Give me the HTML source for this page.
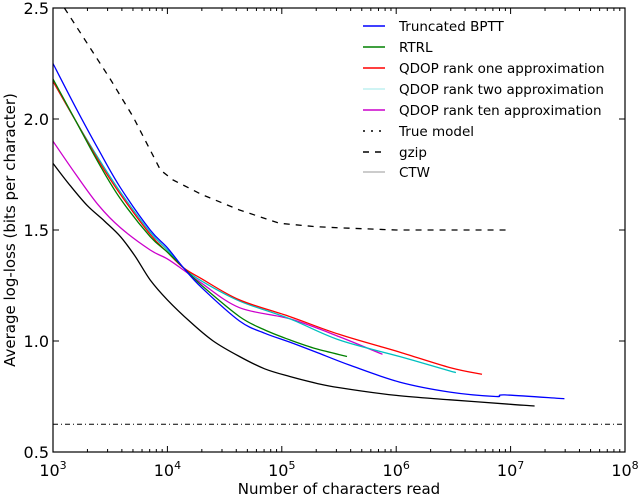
<!DOCTYPE html>
<html><head><meta charset="utf-8"><style>
body{margin:0;background:#fff;}
svg{display:block;font-family:"DejaVu Sans","Liberation Sans",sans-serif;}
</style></head><body>
<svg id="chart" width="640" height="495" viewBox="0 0 640 495" xmlns="http://www.w3.org/2000/svg">
<g id="plot"></g>
</svg>
<script>
const xTicks=[3,4,5,6,7,8];
const yTicks=[0.5,1.0,1.5,2.0,2.5];
const yTickLabels=["0.5","1.0","1.5","2.0","2.5"];
const blackX=[3,3.15,3.3,3.45,3.59,3.72,3.85,4,4.2,4.4,4.63,4.85,5.07,5.3,5.5,6,6.47,7,7.21];
const blackY=[1.80,1.70,1.61,1.54,1.47,1.38,1.275,1.185,1.086,1.00,0.93,0.875,0.84,0.81,0.79,0.755,0.735,0.715,0.707];
const bpttX=[3,3.2,3.4,3.59,3.85,4,4.14,4.3,4.63,4.85,5.07,5.3,5.6,6.03,6.47,6.87,6.95,7.47];
const bpttY=[2.25,2.05,1.86,1.69,1.50,1.42,1.33,1.24,1.09,1.035,0.995,0.95,0.89,0.815,0.77,0.75,0.757,0.74];
const rtrlX=[3,3.2,3.4,3.59,3.85,4,4.14,4.3,4.63,4.85,5.07,5.3,5.57];
const rtrlY=[2.18,1.99,1.80,1.64,1.47,1.40,1.33,1.25,1.11,1.05,1.005,0.965,0.93];
const rank1X=[3,3.2,3.4,3.59,3.85,4,4.14,4.3,4.63,5.07,5.5,6.03,6.47,6.75];
const rank1Y=[2.17,1.99,1.81,1.66,1.48,1.40,1.33,1.28,1.185,1.11,1.03,0.95,0.88,0.85];
const rank2X=[3,3.2,3.4,3.59,3.85,4,4.14,4.3,4.63,5.07,5.5,6.03,6.47,6.51];
const rank2Y=[2.17,1.99,1.82,1.67,1.49,1.41,1.33,1.27,1.18,1.10,1.005,0.93,0.865,0.86];
const rank10X=[3,3.2,3.4,3.59,3.85,4,4.14,4.3,4.63,5.07,5.5,5.88];
const rank10Y=[1.90,1.75,1.61,1.51,1.41,1.37,1.32,1.26,1.15,1.10,1.02,0.94];
const gzipX=[3.1,3.3,3.5,3.7,3.94,4.05,4.3,4.63,4.98,5.3,5.5,6,7];
const gzipY=[2.5,2.34,2.18,2.01,1.77,1.725,1.66,1.59,1.53,1.515,1.51,1.50,1.50];
const trueY=0.625;

const L=53,R=625,T=8,B=452;
const xs=v=>L+(v-3)/5*(R-L);
const ys=v=>B-(v-0.5)/2*(B-T);
const NS="http://www.w3.org/2000/svg";
const svg=document.getElementById('chart');
function mk(t,a,p){const e=document.createElementNS(NS,t);for(const k in a)e.setAttribute(k,a[k]);(p||svg).appendChild(e);return e;}
function smooth(pts){
  let d='M'+pts[0][0].toFixed(1)+' '+pts[0][1].toFixed(1);
  for(let i=0;i<pts.length-1;i++){
    const p0=pts[Math.max(0,i-1)],p1=pts[i],p2=pts[i+1],p3=pts[Math.min(pts.length-1,i+2)];
    const c1x=p1[0]+(p2[0]-p0[0])/6,c1y=p1[1]+(p2[1]-p0[1])/6;
    const c2x=p2[0]-(p3[0]-p1[0])/6,c2y=p2[1]-(p3[1]-p1[1])/6;
    d+=' C'+c1x.toFixed(1)+' '+c1y.toFixed(1)+' '+c2x.toFixed(1)+' '+c2y.toFixed(1)+' '+p2[0].toFixed(1)+' '+p2[1].toFixed(1);
  }
  return d;
}
function series(xa,ya,color,name,dash,w,straight){
  const pts=xa.map((x,i)=>[xs(x),ys(ya[i])]);
  const d=straight?pts.map((p,i)=>(i?'L':'M')+p[0].toFixed(1)+' '+p[1].toFixed(1)).join(' '):smooth(pts);
  const p=mk('path',{d:d,fill:'none',stroke:color,'stroke-width':w||1.3,'stroke-linejoin':'round'});
  if(dash)p.setAttribute('stroke-dasharray',dash);
  
  
}
series(gzipX,gzipY,'#000','gzip-line','6,6',1.3,true);
series([3,8],[trueY,trueY],'#000','true-model-line','5,3,1,3',1,true);
series(blackX,blackY,'#000','ctw-line');
series(rank10X,rank10Y,'#cc00cc','qdop-rank-ten-line');
series(rank2X,rank2Y,'#00bfbf','qdop-rank-two-line');
series(rank1X,rank1Y,'#ff0000','qdop-rank-one-line');
series(rtrlX,rtrlY,'#008000','rtrl-line');
series(bpttX,bpttY,'#0000ff','truncated-bptt-line');
const fr=mk('rect',{x:L,y:T,width:R-L,height:B-T,fill:'none',stroke:'#000','stroke-width':1.2});


xTicks.forEach(t=>{
  const x=xs(t);
  mk('line',{x1:x,x2:x,y1:B,y2:B-6,stroke:'#000'});
  mk('line',{x1:x,x2:x,y1:T,y2:T+6,stroke:'#000'});
  if(t<8){for(let k=2;k<10;k++){const mx=xs(t+Math.log10(k));
    mk('line',{x1:mx,x2:mx,y1:B,y2:B-3,stroke:'#000'});mk('line',{x1:mx,x2:mx,y1:T,y2:T+3,stroke:'#000'});}}
  const tx=mk('text',{x:x,y:B+24,'font-size':16,'text-anchor':'middle'});
  
  
  tx.innerHTML='10<tspan dy="-7" font-size="11">'+t+'</tspan>';
});
yTicks.forEach((t,i)=>{
  const y=ys(t);
  mk('line',{x1:L,x2:L+6,y1:y,y2:y,stroke:'#000'});
  mk('line',{x1:R,x2:R-6,y1:y,y2:y,stroke:'#000'});
  const tx=mk('text',{x:L-4,y:y+6,'font-size':16,'text-anchor':'end'});
  
  
  tx.textContent=yTickLabels[i];
});
const xl=mk('text',{x:339,y:494,'font-size':15,'text-anchor':'middle'});


xl.textContent='Number of characters read';
const yl=mk('text',{x:0,y:0,'font-size':15,'text-anchor':'middle',transform:'translate(15,230) rotate(-90)'});


yl.textContent='Average log-loss (bits per character)';
const legNames=['Truncated BPTT','RTRL','QDOP rank one approximation','QDOP rank two approximation','QDOP rank ten approximation','True model','gzip','CTW'];
const legColors=['#0000ff','#008000','#ff0000','#bff0f0','#cc00cc','#000','#000','#bbb'];
const legDash=['','','','','','2,6','6,6',''];
const legY=[26,47,68,89,110,131,152,172];
legNames.forEach((n,i)=>{
  const g=mk('g',{});
  
  
  const ln=mk('line',{x1:363,x2:385,y1:legY[i],y2:legY[i],stroke:legColors[i],'stroke-width':1.5},g);
  if(legDash[i])ln.setAttribute('stroke-dasharray',legDash[i]);
  const t=mk('text',{x:399,y:legY[i]+5,'font-size':13.5},g);
  t.textContent=n;
});
</script>
</body></html>
